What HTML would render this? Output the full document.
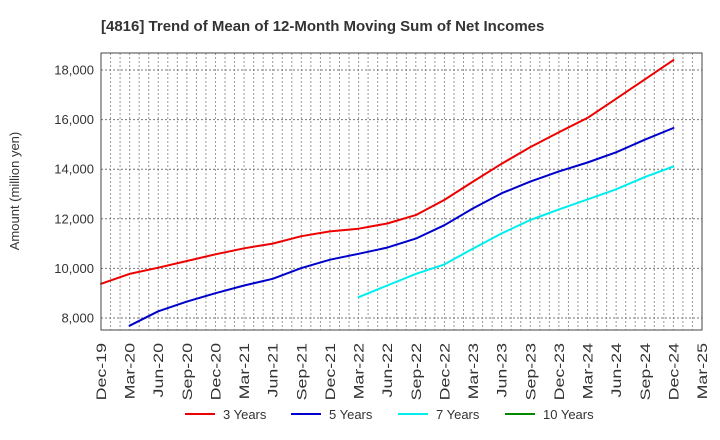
<!DOCTYPE html>
<html><head><meta charset="utf-8"><style>
body{margin:0;background:#fff;}
svg{display:block;font-family:"Liberation Sans",Arial,sans-serif;}
</style></head><body>
<svg id="chart" width="720" height="440" viewBox="0 0 720 440">
<text x="101" y="31" font-size="15" font-weight="bold" fill="#333">[4816]  Trend of Mean of 12-Month Moving Sum of Net Incomes</text>
<text transform="translate(19,191) rotate(-90)" text-anchor="middle" font-size="13" fill="#333">Amount (million yen)</text>
<g id="grid"></g>
<g id="series"></g>
<rect x="101" y="53" width="601" height="277" fill="none" stroke="#444" stroke-width="1"/>
<g id="yticks"></g>
<g id="xticks"></g>
<g id="legend"></g>
</svg>
<script>
const xLabels=["Dec-19","Mar-20","Jun-20","Sep-20","Dec-20","Mar-21","Jun-21","Sep-21","Dec-21","Mar-22","Jun-22","Sep-22","Dec-22","Mar-23","Jun-23","Sep-23","Dec-23","Mar-24","Jun-24","Sep-24","Dec-24","Mar-25"];
const yTicks=[8000,10000,12000,14000,16000,18000];
const yTickLabels=["8,000","10,000","12,000","14,000","16,000","18,000"];
const seriesNames=["3 Years","5 Years","7 Years","10 Years"];
const seriesColors=["#e00","#00c","#0ee","#080"];
const s3=[9380,9780,10030,10300,10570,10810,11000,11300,11490,11600,11810,12150,12760,13500,14220,14890,15490,16070,16840,17620,18400];
const s5=[null,7690,8270,8660,9000,9310,9580,10010,10350,10590,10840,11200,11740,12420,13030,13500,13910,14270,14680,15190,15660];
const s7=[null,null,null,null,null,null,null,null,null,8840,9310,9780,10160,10800,11410,11950,12380,12780,13190,13680,14110];
const s10=[];
const NS="http://www.w3.org/2000/svg";
const L=101,R=702,T=53,B=330,yMin=7516,yMax=18685,months=63;
const xq=i=>L+i*3*(R-L)/months;
const xm=m=>L+m*(R-L)/months;
const y=v=>B-(v-yMin)/(yMax-yMin)*(B-T);
function mk(tag,attrs,parent){const e=document.createElementNS(NS,tag);for(const k in attrs)e.setAttribute(k,attrs[k]);parent.appendChild(e);return e;}
const grid=document.getElementById('grid');
for(let m=1;m<months;m++){const l=mk('line',{x1:xm(m),x2:xm(m),y1:T,y2:B,stroke:'#999','stroke-width':1,'stroke-dasharray':'2,2'},grid);

}
const yt=document.getElementById('yticks');
yTicks.forEach((v,i)=>{const l=mk('line',{x1:L,x2:R,y1:y(v),y2:y(v),stroke:'#777','stroke-width':1,'stroke-dasharray':'2,2'},grid);


const t=mk('text',{x:L-7,y:y(v)+4.5,'text-anchor':'end','font-size':13,fill:'#333'},yt);t.textContent=yTickLabels[i];

});
const xt=document.getElementById('xticks');
xLabels.forEach((s,i)=>{const t=mk('text',{transform:`translate(${xq(i)+5},343) rotate(-90) scale(1.32,1)`,'text-anchor':'end','font-size':13.5,fill:'#333'},xt);t.textContent=s;

});
const sg=document.getElementById('series');
[s3,s5,s7,s10].forEach((arr,k)=>{const pts=[];arr.forEach((v,i)=>{if(v!=null)pts.push(xq(i).toFixed(1)+','+y(v).toFixed(1));});
if(pts.length){const p=mk('polyline',{points:pts.join(' '),fill:'none',stroke:seriesColors[k],'stroke-width':2,'stroke-linejoin':'round','stroke-linecap':'round'},sg);

}});
const lg=document.getElementById('legend');
const lx=[185,291,398,505];
seriesNames.forEach((n,k)=>{const g=mk('g',{},lg);


mk('line',{x1:lx[k],x2:lx[k]+30,y1:414,y2:414,stroke:seriesColors[k],'stroke-width':2},g);
const t=mk('text',{x:lx[k]+38,y:419,'font-size':13,fill:'#333'},g);t.textContent=n;});
</script>
</body></html>
